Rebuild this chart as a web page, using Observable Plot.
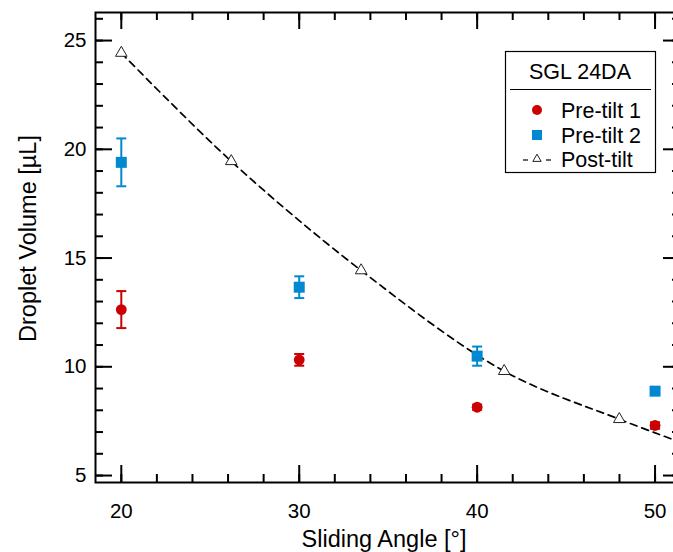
<!DOCTYPE html>
<html>
<head>
<meta charset="utf-8">
<script src="https://cdn.jsdelivr.net/npm/d3@7"></script>
<script src="https://cdn.jsdelivr.net/npm/@observablehq/plot@0.6"></script>
<style>
  html, body { margin: 0; padding: 0; background: #fff; overflow: hidden; }
  #chart { width: 673px; height: 552px; overflow: hidden; position: relative; }
  #chart svg { max-width: none !important; }
</style>
</head>
<body>
<div id="chart"></div>
<script>
// ---- data ----
const angles = [20, 30, 40, 50];
const preTilt1 = [12.63, 10.32, 8.14, 7.30];
const preTilt1Err = [0.85, 0.27, 0.12, 0.15];
const preTilt2 = [19.40, 13.66, 10.49, 8.88];
const preTilt2Err = [1.10, 0.50, 0.44, 0.15];
const postTiltX = [20, 26.18, 33.48, 41.52, 47.99];
const postTiltY = [24.43, 19.45, 14.43, 9.80, 7.59];
const fitX = [20, 26.18, 33.48, 41.52, 47.99, 51.6];
const fitY = [24.43, 19.45, 14.43, 9.80, 7.59, 6.48];
const xMajor = [20, 30, 40, 50];
const xMinor = [20, 22, 24, 26, 28, 30, 32, 34, 36, 38, 40, 42, 44, 46, 48, 50];
const yMajor = [5, 10, 15, 20, 25];
const yMinor = [5, 6, 7, 8, 9, 10, 11, 12, 13, 14, 15, 16, 17, 18, 19, 20, 21, 22, 23, 24, 25, 26];
const seriesNames = ["Pre-tilt 1", "Pre-tilt 2", "Post-tilt"];
const legendTitle = "SGL 24DA";
const xLabel = "Sliding Angle [°]";
const yLabel = "Droplet Volume [µL]";

const RED = "#cc0000", BLUE = "#0088d1";

const p1 = angles.map((x, i) => ({x, y: preTilt1[i], e: preTilt1Err[i]}));
const p2 = angles.map((x, i) => ({x, y: preTilt2[i], e: preTilt2Err[i]}));
const post = postTiltX.map((x, i) => ({x, y: postTiltY[i]}));
const fit = fitX.map((x, i) => ({x, y: fitY[i]}));

const W = 690, H = 552, ML = 95, MR = 10, MT = 12, MB = 70;
const PW = W - ML - MR, PH = H - MT - MB;
const MAJ = 17, MIN = 8;
const FONT = "'Liberation Sans', Arial, sans-serif";

const capSymbol = {
  draw(ctx, size) {
    const r = Math.sqrt(size / Math.PI);
    ctx.moveTo(-r, 0); ctx.lineTo(r, 0);
  }
};

function errMarks(data, color) {
  return [
    Plot.ruleX(data, {x: "x", y1: d => d.y - d.e, y2: d => d.y + d.e, stroke: color, strokeWidth: 2}),
    Plot.dot(data, {x: "x", y: d => d.y + d.e, symbol: capSymbol, r: 5, stroke: color, strokeWidth: 2}),
    Plot.dot(data, {x: "x", y: d => d.y - d.e, symbol: capSymbol, r: 5, stroke: color, strokeWidth: 2})
  ];
}

const chart = Plot.plot({
  width: W, height: H,
  marginLeft: ML, marginRight: MR, marginTop: MT, marginBottom: MB,
  style: {fontFamily: FONT, fontSize: "20px", color: "#000", background: "#fff", maxWidth: "none"},
  x: {domain: [18.55, 51.43]},
  y: {domain: [4.68, 26.29]},
  marks: [
    // ticks inside frame
    Plot.ruleY(yMinor, {y: d => d, insetRight: PW - MIN, stroke: "#000", strokeWidth: 2}),
    Plot.ruleY(yMajor, {y: d => d, insetRight: PW - MAJ, stroke: "#000", strokeWidth: 2}),
    Plot.ruleY(yMinor, {y: d => d, insetLeft: PW - MIN, stroke: "#000", strokeWidth: 2}),
    Plot.ruleY(yMajor, {y: d => d, insetLeft: PW - MAJ, stroke: "#000", strokeWidth: 2}),
    Plot.ruleX(xMinor, {x: d => d, insetTop: PH - MIN, stroke: "#000", strokeWidth: 2}),
    Plot.ruleX(xMajor, {x: d => d, insetTop: PH - MAJ, stroke: "#000", strokeWidth: 2}),
    Plot.ruleX(xMinor, {x: d => d, insetBottom: PH - MIN, stroke: "#000", strokeWidth: 2}),
    Plot.ruleX(xMajor, {x: d => d, insetBottom: PH - MAJ, stroke: "#000", strokeWidth: 2}),
    Plot.axisY(yMajor, {tickSize: 0, tickPadding: 9, label: null, fontSize: 20.5}),
    Plot.axisX(xMajor, {tickSize: 0, tickPadding: 21, label: null, fontSize: 20.5}),
    Plot.text([xLabel], {frameAnchor: "bottom", textAnchor: "middle", text: d => d, dy: 64, dx: -4, fontSize: 23.5}),
    Plot.text([yLabel], {frameAnchor: "left", textAnchor: "middle", text: d => d, dx: -67, dy: -9, rotate: -90, fontSize: 23.5}),
    // fit curve
    Plot.line(fit, {x: "x", y: "y", curve: "catmull-rom", stroke: "#000", strokeWidth: 1.7, strokeDasharray: "7,5", clip: true}),
    Plot.dot(post, {x: "x", y: "y", symbol: "triangle", r: 4.3, fill: "#fff", stroke: "#222", strokeWidth: 1}),
    ...errMarks(p1, RED),
    ...errMarks(p2, BLUE),
    Plot.dot(p1, {x: "x", y: "y", symbol: "circle", r: 5.4, fill: RED}),
    Plot.dot(p2, {x: "x", y: "y", symbol: "square", r: 6.2, fill: BLUE}),
    Plot.frame({stroke: "#000", strokeWidth: 2})
  ]
});

document.getElementById("chart").appendChild(chart);

// legend
const svg = d3.select(chart);
const lg = svg.append("g").attr("font-family", FONT).attr("text-anchor", "start");
lg.append("rect").attr("x", 505.5).attr("y", 51.5).attr("width", 150).attr("height", 121)
  .attr("fill", "#fff").attr("stroke", "#000").attr("stroke-width", 1.2);
lg.append("text").attr("x", 580).attr("y", 79).attr("text-anchor", "middle").attr("font-size", 21.5).text(legendTitle);
lg.append("line").attr("x1", 510).attr("x2", 651).attr("y1", 89.5).attr("y2", 89.5).attr("stroke", "#000").attr("stroke-width", 1);
const rowsY = [110, 135, 159];
seriesNames.forEach((name, i) => {
  lg.append("text").attr("x", 561).attr("y", rowsY[i]).attr("dy", "0.35em").attr("text-anchor", "start").attr("font-size", 21.5).text(name);
});
lg.append("circle").attr("cx", 537).attr("cy", rowsY[0]).attr("r", 5).attr("fill", RED);
lg.append("rect").attr("x", 532).attr("y", rowsY[1] - 5).attr("width", 10).attr("height", 10).attr("fill", BLUE);
lg.append("line").attr("x1", 523).attr("x2", 528).attr("y1", rowsY[2] + 1).attr("y2", rowsY[2] + 1)
  .attr("stroke", "#000").attr("stroke-width", 1.2);
lg.append("line").attr("x1", 546).attr("x2", 551).attr("y1", rowsY[2] + 1).attr("y2", rowsY[2] + 1)
  .attr("stroke", "#000").attr("stroke-width", 1.2);
lg.append("path").attr("transform", `translate(537,${rowsY[2]})`)
  .attr("d", d3.symbol(d3.symbolTriangle, 30)()).attr("fill", "#fff").attr("stroke", "#222").attr("stroke-width", 1);
</script>
</body>
</html>
